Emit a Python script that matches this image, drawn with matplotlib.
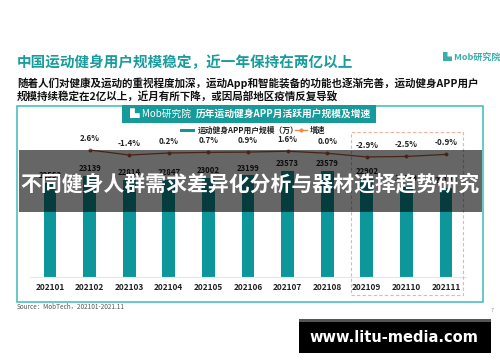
import numpy as np
import matplotlib.pyplot as plt
from matplotlib.patches import Rectangle
from matplotlib.lines import Line2D

plt.rcParams['font.family'] = ['Noto Sans CJK SC', 'DejaVu Sans']

# data
months = ['202101', '202102', '202103', '202104', '202105', '202106',
          '202107', '202108', '202109', '202110', '202111']
users = [22553, 23139, 22814, 22847, 23002, 23199, 23573, 23579, 22902, 22329, 22128]
growth = [None, 2.6, -1.4, 0.2, 0.7, 0.9, 1.6, 0.0, -2.9, -2.5, -0.9]
growth_labels = ['', '2.6%', '-1.4%', '0.2%', '0.7%', '0.9%', '1.6%', '0.0%', '-2.9%', '-2.5%', '-0.9%']

teal = '#0e979b'
line_col = '#b05a3a'
W, H = 500, 362

fig = plt.figure(figsize=(5, 3.62), dpi=100)
fig.patch.set_facecolor('white')

def fx(px):
    return px / W

def fy(py):
    return 1 - py / H

# titles
fig.text(fx(17), fy(62), '中国运动健身用户规模稳定，近一年保持在两亿以上', fontsize=10.5,
         fontweight='bold', color='#1a9c9c', va='center')
fig.text(fx(17), fy(83), '随着人们对健康及运动的重视程度加深，运动App和智能装备的功能也逐渐完善，运动健身APP用户',
         fontsize=7.6, fontweight='bold', color='#111111', va='center')
fig.text(fx(17), fy(96), '规模持续稳定在2亿以上，近月有所下降，或因局部地区疫情反复导致',
         fontsize=7.6, fontweight='bold', color='#111111', va='center')
fig.text(fx(443), fy(57), '▙ Mob研究院', fontsize=6.5, fontstyle='italic', fontweight='bold',
         color='#3aaea8', va='center')

# chart frame
fig.patches.append(Rectangle((fx(17), fy(302)), fx(483) - fx(17), fy(106) - fy(302),
                             transform=fig.transFigure, fill=False, edgecolor='#4cc0c0', lw=1.2))
fig.patches.append(Rectangle((fx(122), fy(123)), fx(376) - fx(122), fy(105) - fy(123),
                             transform=fig.transFigure, facecolor='#169a9a', edgecolor='none'))
fig.text(fx(130), fy(114), '▙ Mob研究院', fontsize=7, fontstyle='italic', color='white', va='center')
fig.text(fx(196), fy(114), '历年运动健身APP月活跃用户规模及增速', fontsize=7, fontweight='bold',
         color='white', va='center')

# dashed highlight box
fig.patches.append(Rectangle((fx(351), fy(295)), fx(463) - fx(351), fy(132) - fy(295),
                             transform=fig.transFigure, fill=False, edgecolor='#f5b09c',
                             lw=0.8, ls=(0, (3, 2))))

# axes
ax = fig.add_axes([fx(30.2), fy(277), fx(465.8) - fx(30.2), fy(132) - fy(277)])
x = np.arange(len(months))
ax.bar(x, users, width=0.32, color=teal, zorder=2)
ax.set_xlim(-0.5, len(months) - 0.5)
ax.set_ylim(14500, 26919)
for xi, v in zip(x, users):
    ax.annotate(str(v), (xi, v), xytext=(0, 2), textcoords='offset points', ha='center',
                va='bottom', fontsize=5.6, fontweight='bold', color='#222222')
ax.set_xticks(x)
ax.set_xticklabels(months, fontsize=6, fontweight='bold', color='#222222')
ax.tick_params(axis='x', length=0, pad=4)
ax.set_yticks([])
for s in ['top', 'right', 'left']:
    ax.spines[s].set_visible(False)
ax.spines['bottom'].set_color('#e6e6e6')
ax.patch.set_alpha(0)

ax2 = ax.twinx()
gx = x[1:]
gy = growth[1:]
ax2.plot(gx, gy, color=line_col, lw=0.9, marker='o', markersize=1.8, zorder=3)
ax2.set_ylim(-97.2, 16.7)
for xi, v, lab in zip(gx, gy, growth_labels[1:]):
    ax2.annotate(lab, (xi, v), xytext=(0, 5), textcoords='offset points', ha='center',
                 va='bottom', fontsize=5.8, fontweight='bold', color='#222222')
ax2.set_yticks([])
for s in ax2.spines.values():
    s.set_visible(False)

# legend
fig.patches.append(Rectangle((fx(180), fy(131.5)), fx(15), fy(128.5) - fy(131.5),
                             transform=fig.transFigure, facecolor=teal, edgecolor='none'))
fig.text(fx(198), fy(130), '运动健身APP用户规模（万）', fontsize=5.6, fontweight='bold',
         color='#222222', va='center')
fig.lines.append(Line2D([fx(295), fx(307)], [fy(130), fy(130)], transform=fig.transFigure,
                        color='#f08a4b', lw=1))
fig.lines.append(Line2D([fx(301)], [fy(130)], transform=fig.transFigure,
                        color='#f08a4b', marker='o', markersize=2))
fig.text(fx(310), fy(130), '增速', fontsize=5.6, fontweight='bold', color='#222222', va='center')

# source and page number
fig.text(fx(17), fy(307), 'Source：MobTech，202101-2021.11', fontsize=4.6, color='#555555', va='center')
fig.text(fx(491), fy(311), '7', fontsize=4, color='#999999', va='center')

# overlay band
fig.patches.append(Rectangle((fx(19), fy(212)), fx(482) - fx(19), fy(150) - fy(212),
                             transform=fig.transFigure, facecolor='black', alpha=0.6,
                             edgecolor='none', zorder=10))
fig.text(0.5, fy(184), '不同健身人群需求差异化分析与器材选择趋势研究', fontsize=15,
         fontweight='bold', color='white', ha='center', va='center', zorder=11)

# site banner
fig.patches.append(Rectangle((fx(299), fy(353)), fx(491) - fx(299), fy(319) - fy(353),
                             transform=fig.transFigure, facecolor='black', edgecolor='none', zorder=10))
fig.patches.append(Rectangle((fx(299), fy(322)), fx(491) - fx(299), fy(319) - fy(322),
                             transform=fig.transFigure, facecolor='#555555', edgecolor='none', zorder=11))
fig.text(fx(394), fy(337), 'www.litu-media.com', fontsize=10.5, fontweight='bold',
         color='white', ha='center', va='center', zorder=12, family='DejaVu Sans')

fig.savefig('out.png', dpi=100)
